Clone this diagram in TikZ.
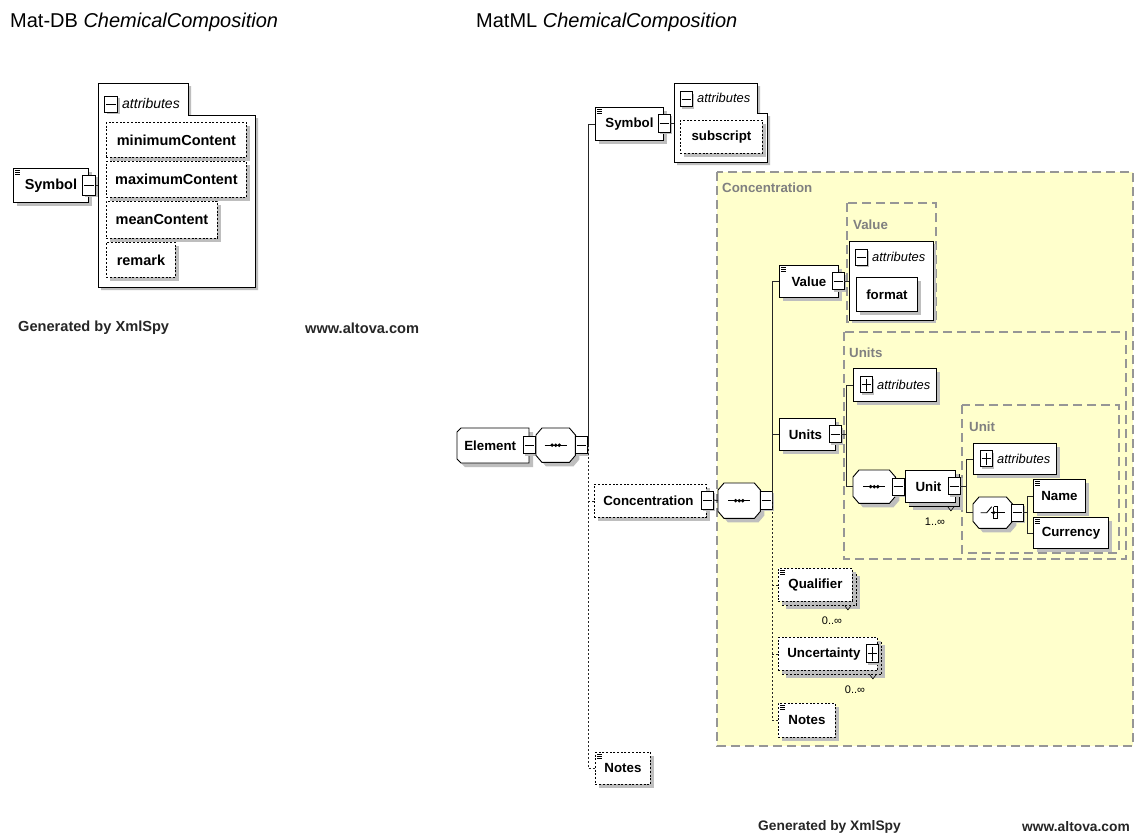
\documentclass[tikz,border=0pt]{standalone}
\usepackage{fontspec}
\setmainfont{Liberation Sans}
\usetikzlibrary{shadows}
\definecolor{typefill}{RGB}{255,255,204}
\definecolor{typeline}{RGB}{150,150,150}
\definecolor{typetext}{RGB}{128,128,128}
\definecolor{shade}{RGB}{190,190,190}
% octagonal outline around a frame node: node name, x chamfer, y chamfer
\newcommand\octframe[3]{%
  \draw[line width=0.9pt,fill=white,shad] ([xshift=#2]#1.north west) -- ([xshift=-#2]#1.north east) -- ([yshift=-#3]#1.north east) -- ([yshift=#3]#1.south east) -- ([xshift=-#2]#1.south east) -- ([xshift=#2]#1.south west) -- ([yshift=#3]#1.south west) -- ([yshift=-#3]#1.north west) -- cycle;}
% sequence compositor glyph: a line with three dots
\newcommand\seqglyph[1]{%
  \draw[line width=1pt] ([xshift=-11pt]#1.center) -- ([xshift=11pt]#1.center);
  \foreach \d in {-3.6,0,3.6}{\fill ([xshift=\d pt]#1.center) circle (1.9pt);}}
% choice compositor glyph: a switch in front of three contacts
\newcommand\choiceglyph[1]{%
  \draw[line width=0.9pt] ([xshift=-12pt]#1.center) -- ([xshift=-6pt]#1.center) -- ([xshift=-1pt,yshift=6pt]#1.center);
  \draw[line width=0.9pt] ([xshift=1pt,yshift=6pt]#1.center) -- ([xshift=1pt,yshift=-6pt]#1.center);
  \draw[line width=0.9pt] ([xshift=1pt,yshift=6pt]#1.center) -- ([xshift=5pt,yshift=6pt]#1.center) -- ([xshift=5pt,yshift=-6pt]#1.center) -- ([xshift=1pt,yshift=-6pt]#1.center);
  \draw[line width=0.9pt] ([xshift=-2pt]#1.center) -- ([xshift=12pt]#1.center);
  \fill ([xshift=1pt]#1.center) circle (1.8pt);}
\begin{document}
\begin{tikzpicture}[x=1pt,y=-1pt,
  shad/.style={drop shadow={fill=shade,opacity=1,shadow xshift=4pt,shadow yshift=-4pt}},
  tinyshad/.style={drop shadow={fill=shade,opacity=1,shadow xshift=2pt,shadow yshift=-2pt}},
  box/.style={draw=black,line width=0.9pt,fill=white,inner sep=0pt,anchor=north west,shad},
  frame/.style={draw=none,fill=none,inner sep=0pt,anchor=north west},
  fontL/.style={font=\fontsize{14.5}{16}\selectfont\bfseries},
  fontR/.style={font=\fontsize{13.3}{15}\selectfont\bfseries},
  optional/.style={dash pattern=on 2pt off 1.7pt},
  global/.style={path picture={\foreach \k in {0,1.7,3.4}{\draw[solid,line width=0.5pt] ([xshift=2pt,yshift={-2pt-\k pt}]path picture bounding box.north west) -- ++(5pt,0pt);}}},
  expbase/.style={draw=black,line width=0.8pt,fill=white,inner sep=0pt,minimum width=12pt,minimum height=17pt,tinyshad},
  minusbox/.style={expbase,path picture={\draw[solid,line width=0.8pt] ([xshift=1.5pt]path picture bounding box.west) -- ([xshift=-1.5pt]path picture bounding box.east);}},
  plusbox/.style={expbase,path picture={\draw[solid,line width=0.8pt] ([xshift=1.5pt]path picture bounding box.west) -- ([xshift=-1.5pt]path picture bounding box.east) ([yshift=-2pt]path picture bounding box.north) -- ([yshift=2pt]path picture bounding box.south);}},
  conn/.style={line width=0.9pt,draw=black!85},
  optconn/.style={conn,dash pattern=on 2pt off 2pt},
  panel/.style={draw=black,line width=0.9pt,fill=white,drop shadow={fill=shade,opacity=1,shadow xshift=3pt,shadow yshift=-3pt}},
  typebox/.style={draw=typeline,line width=1.3pt,dash pattern=on 9pt off 5pt},
  typelabel/.style={anchor=west,inner sep=0pt,text=typetext,font=\fontsize{13.3}{15}\selectfont\bfseries},
  attrL/.style={anchor=west,inner sep=0pt,font=\fontsize{14}{16}\selectfont\itshape},
  attrR/.style={anchor=west,inner sep=0pt,font=\fontsize{12.9}{15}\selectfont\itshape},
  occurs/.style={inner sep=0pt,font=\fontsize{11}{13}\selectfont},
  footer/.style={anchor=west,inner sep=0pt,text=black!85},
  title/.style={anchor=west,inner sep=0pt,font=\fontsize{20}{24}\selectfont}
]
\useasboundingbox[fill=white] (0,0) rectangle (1137,835);

% ---------- titles ----------
\node[title] (titleA) at (10,22) {Mat-DB \textit{ChemicalComposition}};
\node[title] (titleB) at (476,22) {MatML \textit{ChemicalComposition}};

% ---------- Mat-DB: Symbol with its attributes ----------
\node[box,global,fontL,minimum width=75,minimum height=34] (symA) at (13,168) {Symbol};
\draw[panel] (98,83) -- (188,83) -- (188,115) -- (255,115) -- (255,287) -- (98,287) -- cycle;
\coordinate (panA) at (98,185);
\node[minusbox,minimum width=13,minimum height=20] (symAx) at (89,185) {};
\draw[conn] (symAx.east) -- (panA);
\node[minusbox,minimum width=13,minimum height=16] (panAx) at (111,104) {};
\node[attrL] (panAt) at (122,103) {attributes};
\node[box,optional,fontL,minimum width=140,minimum height=35] (minC) at (106,122) {minimumContent};
\node[box,optional,fontL,minimum width=140,minimum height=36] (maxC) at (106,161) {maximumContent};
\node[box,optional,fontL,minimum width=111,minimum height=37] (meanC) at (106,201) {meanContent};
\node[box,optional,fontL,minimum width=69,minimum height=35] (remk) at (106,242) {remark};

\node[footer,font=\fontsize{14.6}{16}\selectfont\bfseries] (genA) at (18,328) {Generated by XmlSpy};
\node[footer,font=\fontsize{14.6}{16}\selectfont\bfseries] (altA) at (305,328) {www.altova.com};

% ---------- MatML: Concentration type area ----------
\draw[typebox,fill=typefill] (717,172) rectangle (1133,746);
\node[typelabel] (concLbl) at (722,188) {Concentration};
\draw[typebox] (847,203) rectangle (936,322);
\node[typelabel] (valLbl) at (853,225) {Value};
\draw[typebox] (844,332) rectangle (1126,559);
\node[typelabel] (unitsLbl) at (849,353) {Units};
\draw[typebox] (962,405) rectangle (1119,553);
\node[typelabel] (unitLbl) at (969,427) {Unit};

% ---------- MatML: Element ----------
% element reference outline, clipped on its left corners
\draw[line width=0.9pt,fill=white,shad] (461,428) -- (529,428) -- (529,463) -- (461,463) -- (457,459) -- (457,432) -- cycle;
\node[frame,fontR,minimum width=72,minimum height=35] (elem) at (457,428) {\hspace*{-6pt}Element};
\node[minusbox] (elemx) at (529,445) {};
\node[frame,minimum width=39,minimum height=34] (seqA) at (536,428) {};
\octframe{seqA}{6pt}{7pt}
\seqglyph{seqA}
\node[minusbox] (seqAx) at (581,445) {};
\draw[conn] (elemx.east) -- (seqA.west);

\node[box,global,fontR,minimum width=68,minimum height=33] (symB) at (595,107) {Symbol};
\node[minusbox,minimum height=18] (symBx) at (664,123) {};
\draw[panel] (674,83) -- (757,83) -- (757,113) -- (767,113) -- (767,162) -- (674,162) -- cycle;
\coordinate (panB) at (674,123);
\draw[conn] (symBx.east) -- (panB);
\node[minusbox,minimum height=15] (panBx) at (686,99) {};
\node[attrR] (panBt) at (697,98) {attributes};
\node[box,optional,fontR,minimum width=82,minimum height=33] (subs) at (680,120) {subscript};

\node[box,optional,fontR,minimum width=112,minimum height=33] (conc) at (594,484) {\hspace*{-4pt}Concentration};
\node[minusbox,minimum height=18] (concx) at (707,500) {};
\node[frame,minimum width=42,minimum height=35] (seqB) at (718,483) {};
\octframe{seqB}{6pt}{7pt}
\seqglyph{seqB}
\node[minusbox,minimum height=18] (seqBx) at (766,500) {};
\draw[conn] (concx.east) -- (seqB.west);

\node[box,optional,global,fontR,minimum width=55,minimum height=32] (notesA) at (595,752) {Notes};

% Element sequence trunk
\coordinate (trkA) at (588,445);
\draw[conn] (seqAx.east) -- (trkA) -- (trkA |- symB.west) -- (symB.west);
\draw[optconn] (trkA) -- (trkA |- notesA.west) -- (notesA.west);
\draw[optconn] (trkA |- conc.west) -- (conc.west);

% ---------- Concentration content ----------
\node[box,global,fontR,minimum width=59,minimum height=32] (val) at (779,265) {Value};
\node[minusbox] (valx) at (838,281) {};
\draw[panel] (849,241) rectangle (933,320);
\coordinate (panV) at (849,281);
\draw[conn] (valx.east) -- (panV);
\node[minusbox,minimum height=16] (panVx) at (861,257) {};
\node[attrR] (panVt) at (872,257) {attributes};
\node[box,fontR,minimum width=61,minimum height=34] (fmt) at (856,277) {format};

\node[box,fontR,minimum width=56,minimum height=32] (units) at (779,418) {\hspace*{-4pt}Units};
\node[minusbox] (unitsx) at (835,434) {};
\node[box,minimum width=83,minimum height=33] (uattr) at (853,368) {};
\node[plusbox,minimum height=16] (uattrx) at (866,384.5) {};
\node[attrR] (uattrt) at (877,384.5) {attributes};
\node[frame,minimum width=42,minimum height=33] (seqC) at (853,470) {};
\octframe{seqC}{6pt}{7pt}
\seqglyph{seqC}
\node[minusbox] (seqCx) at (898,486.5) {};
\node[box,minimum width=50,minimum height=32] (unitbk) at (909,474) {};
\draw[line width=0.6pt] ([xshift=-12pt]unitbk.south east) -- ++(3,4) -- ++(3,-4);
\node[box,fontR,minimum width=50,minimum height=32] (unit) at (905,470) {\hspace*{-4pt}Unit};
\node[minusbox] (unitx) at (954,486) {};
\node[occurs] (unitOcc) at (935,522) {1..∞};
\draw[conn] (seqCx.east) -- (unit.west);

\node[box,minimum width=83,minimum height=31] (unattr) at (973,443) {};
\node[plusbox,minimum height=16] (unattrx) at (986,458.5) {};
\node[attrR] (unattrt) at (997,458.5) {attributes};
\node[frame,minimum width=39,minimum height=31] (chc) at (973,497) {};
\octframe{chc}{6pt}{7pt}
\choiceglyph{chc}
\node[minusbox] (chcx) at (1017,512.5) {};
\node[box,global,fontR,minimum width=52,minimum height=33] (name) at (1033,479) {Name};
\node[box,global,fontR,minimum width=75,minimum height=31] (curr) at (1033,517) {Currency};

\node[box,optional,minimum width=74,minimum height=33] (qualbk) at (782,572) {};
\draw[line width=0.6pt] ([xshift=-12pt]qualbk.south east) -- ++(3,4) -- ++(3,-4);
\node[box,optional,global,fontR,minimum width=74,minimum height=33] (qual) at (778,568) {Qualifier};
\node[occurs] (qualOcc) at (832,621) {0..∞};
\node[box,optional,minimum width=99,minimum height=33] (uncbk) at (782,641) {};
\draw[line width=0.6pt] ([xshift=-12pt]uncbk.south east) -- ++(3,4) -- ++(3,-4);
\node[box,optional,fontR,minimum width=99,minimum height=33] (unc) at (778,637) {\hspace*{-8pt}Uncertainty};
\node[plusbox,minimum height=18] (uncx) at (872,653.5) {};
\node[occurs] (uncOcc) at (855,690) {0..∞};
\node[box,optional,global,fontR,minimum width=57,minimum height=34] (notesB) at (778,703) {Notes};

% Concentration sequence trunk
\coordinate (trkB) at (772,500);
\draw[conn] (seqBx.east) -- (trkB) -- (trkB |- val.west) -- (val.west);
\draw[conn] (trkB |- units.west) -- (units.west);
\draw[optconn] (trkB) -- (trkB |- notesB.west) -- (notesB.west);
\draw[optconn] (trkB |- qual.west) -- (qual.west);
\draw[optconn] (trkB |- unc.west) -- (unc.west);

% Units branches
\coordinate (trkC) at (846,434);
\draw[conn] (unitsx.east) -- (trkC);
\draw[conn] (uattr.west) -- (trkC |- uattr.west) -- (trkC |- seqC.west) -- (seqC.west);

% Unit branches
\coordinate (trkD) at (966,486);
\draw[conn] (unitx.east) -- (trkD);
\draw[conn] (unattr.west) -- (trkD |- unattr.west) -- (trkD |- chc.west) -- (chc.west);

% choice branches
\coordinate (trkE) at (1027,512.5);
\draw[conn] (chcx.east) -- (trkE);
\draw[conn] (name.west) -- (trkE |- name.west) -- (trkE |- curr.west) -- (curr.west);

% ---------- footer ----------
\node[footer,font=\fontsize{13.8}{16}\selectfont\bfseries] (genB) at (758,827) {Generated by XmlSpy};
\node[footer,font=\fontsize{13.8}{16}\selectfont\bfseries] (altB) at (1022,827) {www.altova.com};
\end{tikzpicture}
\end{document}
